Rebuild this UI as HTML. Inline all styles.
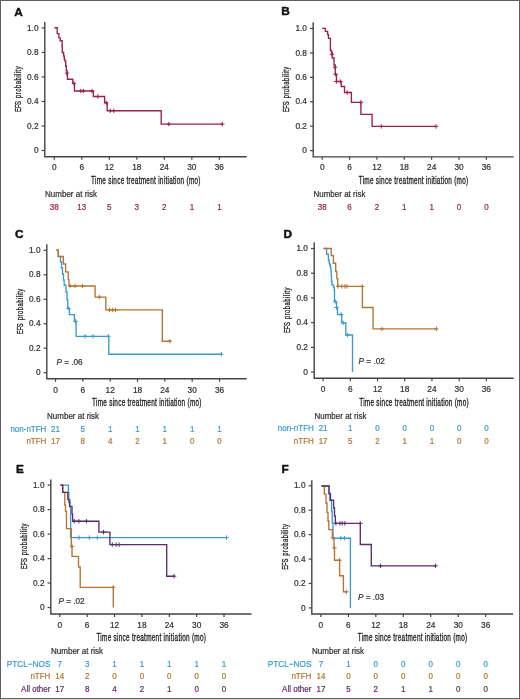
<!DOCTYPE html><html><head><meta charset="utf-8"><style>html,body{margin:0;padding:0;background:#fff;}svg{display:block;will-change:transform;}text{font-family:"Liberation Sans", sans-serif;stroke-linejoin:round;}</style></head><body>
<svg width="520" height="699" viewBox="0 0 520 699">
<rect x="0" y="0" width="520" height="699" fill="#fff"/>
<rect x="0.5" y="0.5" width="519" height="698" fill="none" stroke="#606060" stroke-width="1"/>
<text x="14.3" y="15.6" font-size="11.8" fill="#111" stroke="#111" stroke-width="0.45" font-weight="bold">A</text>
<path d="M44.8,22 V156.7 H246.7" fill="none" stroke="#444444" stroke-width="1.4"/>
<path d="M41.6,150.5 H44.8" stroke="#444444" stroke-width="1.2"/>
<text transform="translate(38.5,153.1) scale(1,1.12)" font-size="8.3" text-anchor="end" fill="#303030" stroke="#303030" stroke-width="0.2">0</text>
<path d="M41.6,125.98 H44.8" stroke="#444444" stroke-width="1.2"/>
<text transform="translate(38.5,128.58) scale(1,1.12)" font-size="8.3" text-anchor="end" fill="#303030" stroke="#303030" stroke-width="0.2">0.2</text>
<path d="M41.6,101.46 H44.8" stroke="#444444" stroke-width="1.2"/>
<text transform="translate(38.5,104.06) scale(1,1.12)" font-size="8.3" text-anchor="end" fill="#303030" stroke="#303030" stroke-width="0.2">0.4</text>
<path d="M41.6,76.94 H44.8" stroke="#444444" stroke-width="1.2"/>
<text transform="translate(38.5,79.54) scale(1,1.12)" font-size="8.3" text-anchor="end" fill="#303030" stroke="#303030" stroke-width="0.2">0.6</text>
<path d="M41.6,52.42 H44.8" stroke="#444444" stroke-width="1.2"/>
<text transform="translate(38.5,55.02) scale(1,1.12)" font-size="8.3" text-anchor="end" fill="#303030" stroke="#303030" stroke-width="0.2">0.8</text>
<path d="M41.6,27.9 H44.8" stroke="#444444" stroke-width="1.2"/>
<text transform="translate(38.5,30.5) scale(1,1.12)" font-size="8.3" text-anchor="end" fill="#303030" stroke="#303030" stroke-width="0.2">1.0</text>
<path d="M54.3,156.7 V159.7" stroke="#444444" stroke-width="1.2"/>
<text transform="translate(54.3,170.3) scale(1,1.12)" font-size="8.3" text-anchor="middle" fill="#303030" stroke="#303030" stroke-width="0.2">0</text>
<path d="M81.81,156.7 V159.7" stroke="#444444" stroke-width="1.2"/>
<text transform="translate(81.81,170.3) scale(1,1.12)" font-size="8.3" text-anchor="middle" fill="#303030" stroke="#303030" stroke-width="0.2">6</text>
<path d="M109.32,156.7 V159.7" stroke="#444444" stroke-width="1.2"/>
<text transform="translate(109.32,170.3) scale(1,1.12)" font-size="8.3" text-anchor="middle" fill="#303030" stroke="#303030" stroke-width="0.2">12</text>
<path d="M136.83,156.7 V159.7" stroke="#444444" stroke-width="1.2"/>
<text transform="translate(136.83,170.3) scale(1,1.12)" font-size="8.3" text-anchor="middle" fill="#303030" stroke="#303030" stroke-width="0.2">18</text>
<path d="M164.34,156.7 V159.7" stroke="#444444" stroke-width="1.2"/>
<text transform="translate(164.34,170.3) scale(1,1.12)" font-size="8.3" text-anchor="middle" fill="#303030" stroke="#303030" stroke-width="0.2">24</text>
<path d="M191.85,156.7 V159.7" stroke="#444444" stroke-width="1.2"/>
<text transform="translate(191.85,170.3) scale(1,1.12)" font-size="8.3" text-anchor="middle" fill="#303030" stroke="#303030" stroke-width="0.2">30</text>
<path d="M219.36,156.7 V159.7" stroke="#444444" stroke-width="1.2"/>
<text transform="translate(219.36,170.3) scale(1,1.12)" font-size="8.3" text-anchor="middle" fill="#303030" stroke="#303030" stroke-width="0.2">36</text>
<text transform="translate(145.75,184) scale(0.63,1)" x="0" y="0" font-size="10.2" text-anchor="middle" textLength="173.81" lengthAdjust="spacing" fill="#1a1a1a" stroke="#1a1a1a" stroke-width="0.32">Time since treatment initiation (mo)</text>
<text transform="translate(20.8,89.2) rotate(-90) scale(0.6,1)" x="-38" y="0" font-size="9.8" textLength="18.33" lengthAdjust="spacing" fill="#1a1a1a" stroke="#1a1a1a" stroke-width="0.3">EFS</text>
<text transform="translate(20.8,89.2) rotate(-90) scale(0.6,1)" x="-14.67" y="0" font-size="9.8" textLength="52.67" lengthAdjust="spacing" fill="#1a1a1a" stroke="#1a1a1a" stroke-width="0.3">probability</text>
<text transform="translate(45.1,197.1) scale(1,1.12)" font-size="8" fill="#303030" stroke="#303030" stroke-width="0.2">Number at risk</text>
<text transform="translate(54.3,209.6) scale(1,1.12)" font-size="8" text-anchor="middle" fill="#9a2145" stroke="#9a2145" stroke-width="0.2">38</text>
<text transform="translate(81.81,209.6) scale(1,1.12)" font-size="8" text-anchor="middle" fill="#9a2145" stroke="#9a2145" stroke-width="0.2">13</text>
<text transform="translate(109.32,209.6) scale(1,1.12)" font-size="8" text-anchor="middle" fill="#9a2145" stroke="#9a2145" stroke-width="0.2">5</text>
<text transform="translate(136.83,209.6) scale(1,1.12)" font-size="8" text-anchor="middle" fill="#9a2145" stroke="#9a2145" stroke-width="0.2">3</text>
<text transform="translate(164.34,209.6) scale(1,1.12)" font-size="8" text-anchor="middle" fill="#9a2145" stroke="#9a2145" stroke-width="0.2">2</text>
<text transform="translate(191.85,209.6) scale(1,1.12)" font-size="8" text-anchor="middle" fill="#9a2145" stroke="#9a2145" stroke-width="0.2">1</text>
<text transform="translate(219.36,209.6) scale(1,1.12)" font-size="8" text-anchor="middle" fill="#9a2145" stroke="#9a2145" stroke-width="0.2">1</text>
<path d="M54.4,27.7 H57.2 V33.6 H58.9 V37.9 H60.2 V40.7 H62.1 V46 H62.3 V52.5 H63.6 V56 H64.3 V59.3 H64.9 V61 H65.7 V66 H66.3 V70.5 H67 V75 H67.5 V79.2 H72.8 V83.3 H74.5 V91 H93.4 V96.5 H104.6 V102.7 H107.2 V110.7 H161.2 V124.1 H222.3" fill="none" stroke="#9a2145" stroke-width="1.35" stroke-linejoin="miter"/>
<path d="M67,70.9 V75.3 M64.8,73.1 H69.2 M73.9,81.2 V85.6 M71.7,83.4 H76.1 M80.8,88.8 V93.2 M78.6,91 H83 M83.3,88.8 V93.2 M81.1,91 H85.5 M92,88.8 V93.2 M89.8,91 H94.2 M97.8,94.3 V98.7 M95.6,96.5 H100 M106.2,100.5 V104.9 M104,102.7 H108.4 M110.3,108.5 V112.9 M108.1,110.7 H112.5 M113.8,108.5 V112.9 M111.6,110.7 H116 M168.8,121.9 V126.3 M166.6,124.1 H171 M222.3,121.9 V126.3 M220.1,124.1 H224.5" fill="none" stroke="#9a2145" stroke-width="1"/>
<text x="281.3" y="15.2" font-size="11.8" fill="#111" stroke="#111" stroke-width="0.45" font-weight="bold">B</text>
<path d="M313.2,22.2 V156.85 H513.7" fill="none" stroke="#444444" stroke-width="1.4"/>
<path d="M310,150.6 H313.2" stroke="#444444" stroke-width="1.2"/>
<text transform="translate(306.9,153.2) scale(1,1.12)" font-size="8.3" text-anchor="end" fill="#303030" stroke="#303030" stroke-width="0.2">0</text>
<path d="M310,126.18 H313.2" stroke="#444444" stroke-width="1.2"/>
<text transform="translate(306.9,128.78) scale(1,1.12)" font-size="8.3" text-anchor="end" fill="#303030" stroke="#303030" stroke-width="0.2">0.2</text>
<path d="M310,101.76 H313.2" stroke="#444444" stroke-width="1.2"/>
<text transform="translate(306.9,104.36) scale(1,1.12)" font-size="8.3" text-anchor="end" fill="#303030" stroke="#303030" stroke-width="0.2">0.4</text>
<path d="M310,77.34 H313.2" stroke="#444444" stroke-width="1.2"/>
<text transform="translate(306.9,79.94) scale(1,1.12)" font-size="8.3" text-anchor="end" fill="#303030" stroke="#303030" stroke-width="0.2">0.6</text>
<path d="M310,52.92 H313.2" stroke="#444444" stroke-width="1.2"/>
<text transform="translate(306.9,55.52) scale(1,1.12)" font-size="8.3" text-anchor="end" fill="#303030" stroke="#303030" stroke-width="0.2">0.8</text>
<path d="M310,28.5 H313.2" stroke="#444444" stroke-width="1.2"/>
<text transform="translate(306.9,31.1) scale(1,1.12)" font-size="8.3" text-anchor="end" fill="#303030" stroke="#303030" stroke-width="0.2">1.0</text>
<path d="M322.2,156.85 V159.85" stroke="#444444" stroke-width="1.2"/>
<text transform="translate(322.2,170.45) scale(1,1.12)" font-size="8.3" text-anchor="middle" fill="#303030" stroke="#303030" stroke-width="0.2">0</text>
<path d="M349.56,156.85 V159.85" stroke="#444444" stroke-width="1.2"/>
<text transform="translate(349.56,170.45) scale(1,1.12)" font-size="8.3" text-anchor="middle" fill="#303030" stroke="#303030" stroke-width="0.2">6</text>
<path d="M376.92,156.85 V159.85" stroke="#444444" stroke-width="1.2"/>
<text transform="translate(376.92,170.45) scale(1,1.12)" font-size="8.3" text-anchor="middle" fill="#303030" stroke="#303030" stroke-width="0.2">12</text>
<path d="M404.28,156.85 V159.85" stroke="#444444" stroke-width="1.2"/>
<text transform="translate(404.28,170.45) scale(1,1.12)" font-size="8.3" text-anchor="middle" fill="#303030" stroke="#303030" stroke-width="0.2">18</text>
<path d="M431.64,156.85 V159.85" stroke="#444444" stroke-width="1.2"/>
<text transform="translate(431.64,170.45) scale(1,1.12)" font-size="8.3" text-anchor="middle" fill="#303030" stroke="#303030" stroke-width="0.2">24</text>
<path d="M459,156.85 V159.85" stroke="#444444" stroke-width="1.2"/>
<text transform="translate(459,170.45) scale(1,1.12)" font-size="8.3" text-anchor="middle" fill="#303030" stroke="#303030" stroke-width="0.2">30</text>
<path d="M486.36,156.85 V159.85" stroke="#444444" stroke-width="1.2"/>
<text transform="translate(486.36,170.45) scale(1,1.12)" font-size="8.3" text-anchor="middle" fill="#303030" stroke="#303030" stroke-width="0.2">36</text>
<text transform="translate(413.45,184.15) scale(0.63,1)" x="0" y="0" font-size="10.2" text-anchor="middle" textLength="173.81" lengthAdjust="spacing" fill="#1a1a1a" stroke="#1a1a1a" stroke-width="0.32">Time since treatment initiation (mo)</text>
<text transform="translate(289.2,89.55) rotate(-90) scale(0.6,1)" x="-38" y="0" font-size="9.8" textLength="18.33" lengthAdjust="spacing" fill="#1a1a1a" stroke="#1a1a1a" stroke-width="0.3">EFS</text>
<text transform="translate(289.2,89.55) rotate(-90) scale(0.6,1)" x="-14.67" y="0" font-size="9.8" textLength="52.67" lengthAdjust="spacing" fill="#1a1a1a" stroke="#1a1a1a" stroke-width="0.3">probability</text>
<text transform="translate(313.5,197.25) scale(1,1.12)" font-size="8" fill="#303030" stroke="#303030" stroke-width="0.2">Number at risk</text>
<text transform="translate(322.2,209.75) scale(1,1.12)" font-size="8" text-anchor="middle" fill="#9a2145" stroke="#9a2145" stroke-width="0.2">38</text>
<text transform="translate(349.56,209.75) scale(1,1.12)" font-size="8" text-anchor="middle" fill="#9a2145" stroke="#9a2145" stroke-width="0.2">6</text>
<text transform="translate(376.92,209.75) scale(1,1.12)" font-size="8" text-anchor="middle" fill="#9a2145" stroke="#9a2145" stroke-width="0.2">2</text>
<text transform="translate(404.28,209.75) scale(1,1.12)" font-size="8" text-anchor="middle" fill="#9a2145" stroke="#9a2145" stroke-width="0.2">1</text>
<text transform="translate(431.64,209.75) scale(1,1.12)" font-size="8" text-anchor="middle" fill="#9a2145" stroke="#9a2145" stroke-width="0.2">1</text>
<text transform="translate(459,209.75) scale(1,1.12)" font-size="8" text-anchor="middle" fill="#9a2145" stroke="#9a2145" stroke-width="0.2">0</text>
<text transform="translate(486.36,209.75) scale(1,1.12)" font-size="8" text-anchor="middle" fill="#9a2145" stroke="#9a2145" stroke-width="0.2">0</text>
<path d="M322,28.4 H325.3 V31.3 H327.6 V34.5 H328.5 V38.3 H330.4 V50.5 H331.5 V52.5 H332.2 V58 H334 V65 H335.2 V74.3 H336.5 V81.5 H341.2 V86.5 H344.5 V92.5 H351.4 V102.3 H360.9 V114.4 H372.1 V126.4 H436" fill="none" stroke="#9a2145" stroke-width="1.35" stroke-linejoin="miter"/>
<path d="M332,52.1 V56.5 M329.8,54.3 H334.2 M335.1,65.1 V69.5 M332.9,67.3 H337.3 M335.6,72.1 V76.5 M333.4,74.3 H337.8 M336.4,79.3 V83.7 M334.2,81.5 H338.6 M340.3,79.3 V83.7 M338.1,81.5 H342.5 M347.2,90.3 V94.7 M345,92.5 H349.4 M360.9,100.1 V104.5 M358.7,102.3 H363.1 M381.3,124.2 V128.6 M379.1,126.4 H383.5 M436,124.2 V128.6 M433.8,126.4 H438.2" fill="none" stroke="#9a2145" stroke-width="1"/>
<text x="15" y="237.8" font-size="11.8" fill="#111" stroke="#111" stroke-width="0.45" font-weight="bold">C</text>
<path d="M46.8,244.2 V378.8 H246.7" fill="none" stroke="#444444" stroke-width="1.4"/>
<path d="M43.6,372.7 H46.8" stroke="#444444" stroke-width="1.2"/>
<text transform="translate(40.5,375.3) scale(1,1.12)" font-size="8.3" text-anchor="end" fill="#303030" stroke="#303030" stroke-width="0.2">0</text>
<path d="M43.6,348.22 H46.8" stroke="#444444" stroke-width="1.2"/>
<text transform="translate(40.5,350.82) scale(1,1.12)" font-size="8.3" text-anchor="end" fill="#303030" stroke="#303030" stroke-width="0.2">0.2</text>
<path d="M43.6,323.74 H46.8" stroke="#444444" stroke-width="1.2"/>
<text transform="translate(40.5,326.34) scale(1,1.12)" font-size="8.3" text-anchor="end" fill="#303030" stroke="#303030" stroke-width="0.2">0.4</text>
<path d="M43.6,299.26 H46.8" stroke="#444444" stroke-width="1.2"/>
<text transform="translate(40.5,301.86) scale(1,1.12)" font-size="8.3" text-anchor="end" fill="#303030" stroke="#303030" stroke-width="0.2">0.6</text>
<path d="M43.6,274.78 H46.8" stroke="#444444" stroke-width="1.2"/>
<text transform="translate(40.5,277.38) scale(1,1.12)" font-size="8.3" text-anchor="end" fill="#303030" stroke="#303030" stroke-width="0.2">0.8</text>
<path d="M43.6,250.3 H46.8" stroke="#444444" stroke-width="1.2"/>
<text transform="translate(40.5,252.9) scale(1,1.12)" font-size="8.3" text-anchor="end" fill="#303030" stroke="#303030" stroke-width="0.2">1.0</text>
<path d="M55.5,378.8 V381.8" stroke="#444444" stroke-width="1.2"/>
<text transform="translate(55.5,393) scale(1,1.12)" font-size="8.3" text-anchor="middle" fill="#303030" stroke="#303030" stroke-width="0.2">0</text>
<path d="M82.84,378.8 V381.8" stroke="#444444" stroke-width="1.2"/>
<text transform="translate(82.84,393) scale(1,1.12)" font-size="8.3" text-anchor="middle" fill="#303030" stroke="#303030" stroke-width="0.2">6</text>
<path d="M110.17,378.8 V381.8" stroke="#444444" stroke-width="1.2"/>
<text transform="translate(110.17,393) scale(1,1.12)" font-size="8.3" text-anchor="middle" fill="#303030" stroke="#303030" stroke-width="0.2">12</text>
<path d="M137.51,378.8 V381.8" stroke="#444444" stroke-width="1.2"/>
<text transform="translate(137.51,393) scale(1,1.12)" font-size="8.3" text-anchor="middle" fill="#303030" stroke="#303030" stroke-width="0.2">18</text>
<path d="M164.84,378.8 V381.8" stroke="#444444" stroke-width="1.2"/>
<text transform="translate(164.84,393) scale(1,1.12)" font-size="8.3" text-anchor="middle" fill="#303030" stroke="#303030" stroke-width="0.2">24</text>
<path d="M192.18,378.8 V381.8" stroke="#444444" stroke-width="1.2"/>
<text transform="translate(192.18,393) scale(1,1.12)" font-size="8.3" text-anchor="middle" fill="#303030" stroke="#303030" stroke-width="0.2">30</text>
<path d="M219.52,378.8 V381.8" stroke="#444444" stroke-width="1.2"/>
<text transform="translate(219.52,393) scale(1,1.12)" font-size="8.3" text-anchor="middle" fill="#303030" stroke="#303030" stroke-width="0.2">36</text>
<text transform="translate(146.75,406.1) scale(0.63,1)" x="0" y="0" font-size="10.2" text-anchor="middle" textLength="173.81" lengthAdjust="spacing" fill="#1a1a1a" stroke="#1a1a1a" stroke-width="0.32">Time since treatment initiation (mo)</text>
<text transform="translate(22.8,311.5) rotate(-90) scale(0.6,1)" x="-38" y="0" font-size="9.8" textLength="18.33" lengthAdjust="spacing" fill="#1a1a1a" stroke="#1a1a1a" stroke-width="0.3">EFS</text>
<text transform="translate(22.8,311.5) rotate(-90) scale(0.6,1)" x="-14.67" y="0" font-size="9.8" textLength="52.67" lengthAdjust="spacing" fill="#1a1a1a" stroke="#1a1a1a" stroke-width="0.3">probability</text>
<text transform="translate(47.1,419.2) scale(1,1.12)" font-size="8" fill="#303030" stroke="#303030" stroke-width="0.2">Number at risk</text>
<text transform="translate(46.4,431.7) scale(1,1.12)" font-size="8" text-anchor="end" fill="#3b9bd0" stroke="#3b9bd0" stroke-width="0.2">non-nTFH</text>
<text transform="translate(55.5,431.7) scale(1,1.12)" font-size="8" text-anchor="middle" fill="#3b9bd0" stroke="#3b9bd0" stroke-width="0.2">21</text>
<text transform="translate(82.84,431.7) scale(1,1.12)" font-size="8" text-anchor="middle" fill="#3b9bd0" stroke="#3b9bd0" stroke-width="0.2">5</text>
<text transform="translate(110.17,431.7) scale(1,1.12)" font-size="8" text-anchor="middle" fill="#3b9bd0" stroke="#3b9bd0" stroke-width="0.2">1</text>
<text transform="translate(137.51,431.7) scale(1,1.12)" font-size="8" text-anchor="middle" fill="#3b9bd0" stroke="#3b9bd0" stroke-width="0.2">1</text>
<text transform="translate(164.84,431.7) scale(1,1.12)" font-size="8" text-anchor="middle" fill="#3b9bd0" stroke="#3b9bd0" stroke-width="0.2">1</text>
<text transform="translate(192.18,431.7) scale(1,1.12)" font-size="8" text-anchor="middle" fill="#3b9bd0" stroke="#3b9bd0" stroke-width="0.2">1</text>
<text transform="translate(219.52,431.7) scale(1,1.12)" font-size="8" text-anchor="middle" fill="#3b9bd0" stroke="#3b9bd0" stroke-width="0.2">1</text>
<text transform="translate(46.4,444.1) scale(1,1.12)" font-size="8" text-anchor="end" fill="#b5742f" stroke="#b5742f" stroke-width="0.2">nTFH</text>
<text transform="translate(55.5,444.1) scale(1,1.12)" font-size="8" text-anchor="middle" fill="#b5742f" stroke="#b5742f" stroke-width="0.2">17</text>
<text transform="translate(82.84,444.1) scale(1,1.12)" font-size="8" text-anchor="middle" fill="#b5742f" stroke="#b5742f" stroke-width="0.2">8</text>
<text transform="translate(110.17,444.1) scale(1,1.12)" font-size="8" text-anchor="middle" fill="#b5742f" stroke="#b5742f" stroke-width="0.2">4</text>
<text transform="translate(137.51,444.1) scale(1,1.12)" font-size="8" text-anchor="middle" fill="#b5742f" stroke="#b5742f" stroke-width="0.2">2</text>
<text transform="translate(164.84,444.1) scale(1,1.12)" font-size="8" text-anchor="middle" fill="#b5742f" stroke="#b5742f" stroke-width="0.2">1</text>
<text transform="translate(192.18,444.1) scale(1,1.12)" font-size="8" text-anchor="middle" fill="#b5742f" stroke="#b5742f" stroke-width="0.2">0</text>
<text transform="translate(219.52,444.1) scale(1,1.12)" font-size="8" text-anchor="middle" fill="#b5742f" stroke="#b5742f" stroke-width="0.2">0</text>
<path d="M56.3,250.2 H58.3 V256.5 H60.5 V262 H61.5 V268 H62.5 V274 H63.5 V280 H64.2 V285.2 H66 V292 H67 V300 H67.8 V308.3 H69.4 V314.6 H74.4 V321.3 H76.1 V336.3 H108.8 V354.2 H221.5" fill="none" stroke="#3b9bd0" stroke-width="1.35" stroke-linejoin="miter"/>
<path d="M68.3,306.1 V310.5 M66.1,308.3 H70.5 M75.5,319.1 V323.5 M73.3,321.3 H77.7 M85.2,334.1 V338.5 M83,336.3 H87.4 M93.1,334.1 V338.5 M90.9,336.3 H95.3 M108.3,334.1 V338.5 M106.1,336.3 H110.5 M221.3,352 V356.4 M219.1,354.2 H223.5" fill="none" stroke="#3b9bd0" stroke-width="1"/>
<path d="M56.3,250.2 H58.3 V256.5 H63.3 V264 H65.6 V271.8 H68.2 V279.6 H69 V286 H95.1 V297.1 H105.8 V309.9 H162.3 V341.2 H171" fill="none" stroke="#b5742f" stroke-width="1.35" stroke-linejoin="miter"/>
<path d="M70.2,283.8 V288.2 M68,286 H72.4 M75,283.8 V288.2 M72.8,286 H77.2 M82.4,283.8 V288.2 M80.2,286 H84.6 M99.3,294.9 V299.3 M97.1,297.1 H101.5 M109.5,307.7 V312.1 M107.3,309.9 H111.7 M112.6,307.7 V312.1 M110.4,309.9 H114.8 M115.4,307.7 V312.1 M113.2,309.9 H117.6 M169.8,339 V343.4 M167.6,341.2 H172" fill="none" stroke="#b5742f" stroke-width="1"/>
<text transform="translate(56.5,364.7) scale(1,1.12)" font-size="8.2" fill="#303030" stroke="#303030" stroke-width="0.2"><tspan font-style="italic">P</tspan> = .06</text>
<text x="283.6" y="237.8" font-size="11.8" fill="#111" stroke="#111" stroke-width="0.45" font-weight="bold">D</text>
<path d="M314.2,242.2 V378.3 H513.7" fill="none" stroke="#444444" stroke-width="1.4"/>
<path d="M311,372.1 H314.2" stroke="#444444" stroke-width="1.2"/>
<text transform="translate(307.9,374.7) scale(1,1.12)" font-size="8.3" text-anchor="end" fill="#303030" stroke="#303030" stroke-width="0.2">0</text>
<path d="M311,347.38 H314.2" stroke="#444444" stroke-width="1.2"/>
<text transform="translate(307.9,349.98) scale(1,1.12)" font-size="8.3" text-anchor="end" fill="#303030" stroke="#303030" stroke-width="0.2">0.2</text>
<path d="M311,322.66 H314.2" stroke="#444444" stroke-width="1.2"/>
<text transform="translate(307.9,325.26) scale(1,1.12)" font-size="8.3" text-anchor="end" fill="#303030" stroke="#303030" stroke-width="0.2">0.4</text>
<path d="M311,297.94 H314.2" stroke="#444444" stroke-width="1.2"/>
<text transform="translate(307.9,300.54) scale(1,1.12)" font-size="8.3" text-anchor="end" fill="#303030" stroke="#303030" stroke-width="0.2">0.6</text>
<path d="M311,273.22 H314.2" stroke="#444444" stroke-width="1.2"/>
<text transform="translate(307.9,275.82) scale(1,1.12)" font-size="8.3" text-anchor="end" fill="#303030" stroke="#303030" stroke-width="0.2">0.8</text>
<path d="M311,248.5 H314.2" stroke="#444444" stroke-width="1.2"/>
<text transform="translate(307.9,251.1) scale(1,1.12)" font-size="8.3" text-anchor="end" fill="#303030" stroke="#303030" stroke-width="0.2">1.0</text>
<path d="M323.1,378.3 V381.3" stroke="#444444" stroke-width="1.2"/>
<text transform="translate(323.1,391.9) scale(1,1.12)" font-size="8.3" text-anchor="middle" fill="#303030" stroke="#303030" stroke-width="0.2">0</text>
<path d="M350.31,378.3 V381.3" stroke="#444444" stroke-width="1.2"/>
<text transform="translate(350.31,391.9) scale(1,1.12)" font-size="8.3" text-anchor="middle" fill="#303030" stroke="#303030" stroke-width="0.2">6</text>
<path d="M377.52,378.3 V381.3" stroke="#444444" stroke-width="1.2"/>
<text transform="translate(377.52,391.9) scale(1,1.12)" font-size="8.3" text-anchor="middle" fill="#303030" stroke="#303030" stroke-width="0.2">12</text>
<path d="M404.73,378.3 V381.3" stroke="#444444" stroke-width="1.2"/>
<text transform="translate(404.73,391.9) scale(1,1.12)" font-size="8.3" text-anchor="middle" fill="#303030" stroke="#303030" stroke-width="0.2">18</text>
<path d="M431.94,378.3 V381.3" stroke="#444444" stroke-width="1.2"/>
<text transform="translate(431.94,391.9) scale(1,1.12)" font-size="8.3" text-anchor="middle" fill="#303030" stroke="#303030" stroke-width="0.2">24</text>
<path d="M459.15,378.3 V381.3" stroke="#444444" stroke-width="1.2"/>
<text transform="translate(459.15,391.9) scale(1,1.12)" font-size="8.3" text-anchor="middle" fill="#303030" stroke="#303030" stroke-width="0.2">30</text>
<path d="M486.36,378.3 V381.3" stroke="#444444" stroke-width="1.2"/>
<text transform="translate(486.36,391.9) scale(1,1.12)" font-size="8.3" text-anchor="middle" fill="#303030" stroke="#303030" stroke-width="0.2">36</text>
<text transform="translate(413.95,405.6) scale(0.63,1)" x="0" y="0" font-size="10.2" text-anchor="middle" textLength="173.81" lengthAdjust="spacing" fill="#1a1a1a" stroke="#1a1a1a" stroke-width="0.32">Time since treatment initiation (mo)</text>
<text transform="translate(290.2,310.3) rotate(-90) scale(0.6,1)" x="-38" y="0" font-size="9.8" textLength="18.33" lengthAdjust="spacing" fill="#1a1a1a" stroke="#1a1a1a" stroke-width="0.3">EFS</text>
<text transform="translate(290.2,310.3) rotate(-90) scale(0.6,1)" x="-14.67" y="0" font-size="9.8" textLength="52.67" lengthAdjust="spacing" fill="#1a1a1a" stroke="#1a1a1a" stroke-width="0.3">probability</text>
<text transform="translate(314.5,418.7) scale(1,1.12)" font-size="8" fill="#303030" stroke="#303030" stroke-width="0.2">Number at risk</text>
<text transform="translate(313.8,431.2) scale(1,1.12)" font-size="8" text-anchor="end" fill="#3b9bd0" stroke="#3b9bd0" stroke-width="0.2">non-nTFH</text>
<text transform="translate(323.1,431.2) scale(1,1.12)" font-size="8" text-anchor="middle" fill="#3b9bd0" stroke="#3b9bd0" stroke-width="0.2">21</text>
<text transform="translate(350.31,431.2) scale(1,1.12)" font-size="8" text-anchor="middle" fill="#3b9bd0" stroke="#3b9bd0" stroke-width="0.2">1</text>
<text transform="translate(377.52,431.2) scale(1,1.12)" font-size="8" text-anchor="middle" fill="#3b9bd0" stroke="#3b9bd0" stroke-width="0.2">0</text>
<text transform="translate(404.73,431.2) scale(1,1.12)" font-size="8" text-anchor="middle" fill="#3b9bd0" stroke="#3b9bd0" stroke-width="0.2">0</text>
<text transform="translate(431.94,431.2) scale(1,1.12)" font-size="8" text-anchor="middle" fill="#3b9bd0" stroke="#3b9bd0" stroke-width="0.2">0</text>
<text transform="translate(459.15,431.2) scale(1,1.12)" font-size="8" text-anchor="middle" fill="#3b9bd0" stroke="#3b9bd0" stroke-width="0.2">0</text>
<text transform="translate(486.36,431.2) scale(1,1.12)" font-size="8" text-anchor="middle" fill="#3b9bd0" stroke="#3b9bd0" stroke-width="0.2">0</text>
<text transform="translate(313.8,443.6) scale(1,1.12)" font-size="8" text-anchor="end" fill="#b5742f" stroke="#b5742f" stroke-width="0.2">nTFH</text>
<text transform="translate(323.1,443.6) scale(1,1.12)" font-size="8" text-anchor="middle" fill="#b5742f" stroke="#b5742f" stroke-width="0.2">17</text>
<text transform="translate(350.31,443.6) scale(1,1.12)" font-size="8" text-anchor="middle" fill="#b5742f" stroke="#b5742f" stroke-width="0.2">5</text>
<text transform="translate(377.52,443.6) scale(1,1.12)" font-size="8" text-anchor="middle" fill="#b5742f" stroke="#b5742f" stroke-width="0.2">2</text>
<text transform="translate(404.73,443.6) scale(1,1.12)" font-size="8" text-anchor="middle" fill="#b5742f" stroke="#b5742f" stroke-width="0.2">1</text>
<text transform="translate(431.94,443.6) scale(1,1.12)" font-size="8" text-anchor="middle" fill="#b5742f" stroke="#b5742f" stroke-width="0.2">1</text>
<text transform="translate(459.15,443.6) scale(1,1.12)" font-size="8" text-anchor="middle" fill="#b5742f" stroke="#b5742f" stroke-width="0.2">0</text>
<text transform="translate(486.36,443.6) scale(1,1.12)" font-size="8" text-anchor="middle" fill="#b5742f" stroke="#b5742f" stroke-width="0.2">0</text>
<path d="M323.6,248.5 H326.6 V254.2 H328.4 V260 H329.2 V263 H329.7 V265 H330.4 V267.5 H330.9 V271 H331.2 V276 H331.5 V281 H331.9 V284.8 H333.4 V287 H334.2 V290 H334.5 V301.6 H336.5 V307.5 H337.5 V314.5 H341.7 V322.8 H345.8 V335 H352.5 V372" fill="none" stroke="#3b9bd0" stroke-width="1.35" stroke-linejoin="miter"/>
<path d="M335.2,299.4 V303.8 M333,301.6 H337.4 M336.5,305.3 V309.7 M334.3,307.5 H338.7 M341.2,312.3 V316.7 M339,314.5 H343.4 M343.2,320.6 V325 M341,322.8 H345.4 M347.5,332.8 V337.2 M345.3,335 H349.7" fill="none" stroke="#3b9bd0" stroke-width="1"/>
<path d="M323.6,248.5 H331.2 V255.5 H333.4 V263.2 H335.7 V271.5 H336.8 V278.6 H337.7 V286.4 H362.4 V307.5 H373.1 V328.9 H436.5" fill="none" stroke="#b5742f" stroke-width="1.35" stroke-linejoin="miter"/>
<path d="M338,284.2 V288.6 M335.8,286.4 H340.2 M341.7,284.2 V288.6 M339.5,286.4 H343.9 M344.9,284.2 V288.6 M342.7,286.4 H347.1 M346.9,284.2 V288.6 M344.7,286.4 H349.1 M362.3,284.2 V288.6 M360.1,286.4 H364.5 M382.1,326.7 V331.1 M379.9,328.9 H384.3 M436.5,326.7 V331.1 M434.3,328.9 H438.7" fill="none" stroke="#b5742f" stroke-width="1"/>
<text transform="translate(358.6,364.4) scale(1,1.12)" font-size="8.2" fill="#303030" stroke="#303030" stroke-width="0.2"><tspan font-style="italic">P</tspan> = .02</text>
<text x="16" y="472.8" font-size="11.8" fill="#111" stroke="#111" stroke-width="0.45" font-weight="bold">E</text>
<path d="M50.8,479.5 V614 H251.5" fill="none" stroke="#444444" stroke-width="1.4"/>
<path d="M47.6,607.5 H50.8" stroke="#444444" stroke-width="1.2"/>
<text transform="translate(44.5,610.1) scale(1,1.12)" font-size="8.3" text-anchor="end" fill="#303030" stroke="#303030" stroke-width="0.2">0</text>
<path d="M47.6,583.04 H50.8" stroke="#444444" stroke-width="1.2"/>
<text transform="translate(44.5,585.64) scale(1,1.12)" font-size="8.3" text-anchor="end" fill="#303030" stroke="#303030" stroke-width="0.2">0.2</text>
<path d="M47.6,558.58 H50.8" stroke="#444444" stroke-width="1.2"/>
<text transform="translate(44.5,561.18) scale(1,1.12)" font-size="8.3" text-anchor="end" fill="#303030" stroke="#303030" stroke-width="0.2">0.4</text>
<path d="M47.6,534.12 H50.8" stroke="#444444" stroke-width="1.2"/>
<text transform="translate(44.5,536.72) scale(1,1.12)" font-size="8.3" text-anchor="end" fill="#303030" stroke="#303030" stroke-width="0.2">0.6</text>
<path d="M47.6,509.66 H50.8" stroke="#444444" stroke-width="1.2"/>
<text transform="translate(44.5,512.26) scale(1,1.12)" font-size="8.3" text-anchor="end" fill="#303030" stroke="#303030" stroke-width="0.2">0.8</text>
<path d="M47.6,485.2 H50.8" stroke="#444444" stroke-width="1.2"/>
<text transform="translate(44.5,487.8) scale(1,1.12)" font-size="8.3" text-anchor="end" fill="#303030" stroke="#303030" stroke-width="0.2">1.0</text>
<path d="M59.8,614 V617" stroke="#444444" stroke-width="1.2"/>
<text transform="translate(59.8,627.6) scale(1,1.12)" font-size="8.3" text-anchor="middle" fill="#303030" stroke="#303030" stroke-width="0.2">0</text>
<path d="M87.17,614 V617" stroke="#444444" stroke-width="1.2"/>
<text transform="translate(87.17,627.6) scale(1,1.12)" font-size="8.3" text-anchor="middle" fill="#303030" stroke="#303030" stroke-width="0.2">6</text>
<path d="M114.53,614 V617" stroke="#444444" stroke-width="1.2"/>
<text transform="translate(114.53,627.6) scale(1,1.12)" font-size="8.3" text-anchor="middle" fill="#303030" stroke="#303030" stroke-width="0.2">12</text>
<path d="M141.9,614 V617" stroke="#444444" stroke-width="1.2"/>
<text transform="translate(141.9,627.6) scale(1,1.12)" font-size="8.3" text-anchor="middle" fill="#303030" stroke="#303030" stroke-width="0.2">18</text>
<path d="M169.26,614 V617" stroke="#444444" stroke-width="1.2"/>
<text transform="translate(169.26,627.6) scale(1,1.12)" font-size="8.3" text-anchor="middle" fill="#303030" stroke="#303030" stroke-width="0.2">24</text>
<path d="M196.63,614 V617" stroke="#444444" stroke-width="1.2"/>
<text transform="translate(196.63,627.6) scale(1,1.12)" font-size="8.3" text-anchor="middle" fill="#303030" stroke="#303030" stroke-width="0.2">30</text>
<path d="M224,614 V617" stroke="#444444" stroke-width="1.2"/>
<text transform="translate(224,627.6) scale(1,1.12)" font-size="8.3" text-anchor="middle" fill="#303030" stroke="#303030" stroke-width="0.2">36</text>
<text transform="translate(151.15,641.3) scale(0.63,1)" x="0" y="0" font-size="10.2" text-anchor="middle" textLength="173.81" lengthAdjust="spacing" fill="#1a1a1a" stroke="#1a1a1a" stroke-width="0.32">Time since treatment initiation (mo)</text>
<text transform="translate(26.8,546.35) rotate(-90) scale(0.6,1)" x="-38" y="0" font-size="9.8" textLength="18.33" lengthAdjust="spacing" fill="#1a1a1a" stroke="#1a1a1a" stroke-width="0.3">EFS</text>
<text transform="translate(26.8,546.35) rotate(-90) scale(0.6,1)" x="-14.67" y="0" font-size="9.8" textLength="52.67" lengthAdjust="spacing" fill="#1a1a1a" stroke="#1a1a1a" stroke-width="0.3">probability</text>
<text transform="translate(51.1,654.4) scale(1,1.12)" font-size="8" fill="#303030" stroke="#303030" stroke-width="0.2">Number at risk</text>
<text transform="translate(50.4,666.9) scale(1,1.12)" font-size="8" text-anchor="end" fill="#3b9bd0" stroke="#3b9bd0" stroke-width="0.2" textLength="43.6" lengthAdjust="spacingAndGlyphs">PTCL−NOS</text>
<text transform="translate(59.8,666.9) scale(1,1.12)" font-size="8" text-anchor="middle" fill="#3b9bd0" stroke="#3b9bd0" stroke-width="0.2">7</text>
<text transform="translate(87.17,666.9) scale(1,1.12)" font-size="8" text-anchor="middle" fill="#3b9bd0" stroke="#3b9bd0" stroke-width="0.2">3</text>
<text transform="translate(114.53,666.9) scale(1,1.12)" font-size="8" text-anchor="middle" fill="#3b9bd0" stroke="#3b9bd0" stroke-width="0.2">1</text>
<text transform="translate(141.9,666.9) scale(1,1.12)" font-size="8" text-anchor="middle" fill="#3b9bd0" stroke="#3b9bd0" stroke-width="0.2">1</text>
<text transform="translate(169.26,666.9) scale(1,1.12)" font-size="8" text-anchor="middle" fill="#3b9bd0" stroke="#3b9bd0" stroke-width="0.2">1</text>
<text transform="translate(196.63,666.9) scale(1,1.12)" font-size="8" text-anchor="middle" fill="#3b9bd0" stroke="#3b9bd0" stroke-width="0.2">1</text>
<text transform="translate(224,666.9) scale(1,1.12)" font-size="8" text-anchor="middle" fill="#3b9bd0" stroke="#3b9bd0" stroke-width="0.2">1</text>
<text transform="translate(50.4,679.3) scale(1,1.12)" font-size="8" text-anchor="end" fill="#b5742f" stroke="#b5742f" stroke-width="0.2">nTFH</text>
<text transform="translate(59.8,679.3) scale(1,1.12)" font-size="8" text-anchor="middle" fill="#b5742f" stroke="#b5742f" stroke-width="0.2">14</text>
<text transform="translate(87.17,679.3) scale(1,1.12)" font-size="8" text-anchor="middle" fill="#b5742f" stroke="#b5742f" stroke-width="0.2">2</text>
<text transform="translate(114.53,679.3) scale(1,1.12)" font-size="8" text-anchor="middle" fill="#b5742f" stroke="#b5742f" stroke-width="0.2">0</text>
<text transform="translate(141.9,679.3) scale(1,1.12)" font-size="8" text-anchor="middle" fill="#b5742f" stroke="#b5742f" stroke-width="0.2">0</text>
<text transform="translate(169.26,679.3) scale(1,1.12)" font-size="8" text-anchor="middle" fill="#b5742f" stroke="#b5742f" stroke-width="0.2">0</text>
<text transform="translate(196.63,679.3) scale(1,1.12)" font-size="8" text-anchor="middle" fill="#b5742f" stroke="#b5742f" stroke-width="0.2">0</text>
<text transform="translate(224,679.3) scale(1,1.12)" font-size="8" text-anchor="middle" fill="#b5742f" stroke="#b5742f" stroke-width="0.2">0</text>
<text transform="translate(50.4,691.7) scale(1,1.12)" font-size="8" text-anchor="end" fill="#5b2d6c" stroke="#5b2d6c" stroke-width="0.2">All other</text>
<text transform="translate(59.8,691.7) scale(1,1.12)" font-size="8" text-anchor="middle" fill="#5b2d6c" stroke="#5b2d6c" stroke-width="0.2">17</text>
<text transform="translate(87.17,691.7) scale(1,1.12)" font-size="8" text-anchor="middle" fill="#5b2d6c" stroke="#5b2d6c" stroke-width="0.2">8</text>
<text transform="translate(114.53,691.7) scale(1,1.12)" font-size="8" text-anchor="middle" fill="#5b2d6c" stroke="#5b2d6c" stroke-width="0.2">4</text>
<text transform="translate(141.9,691.7) scale(1,1.12)" font-size="8" text-anchor="middle" fill="#5b2d6c" stroke="#5b2d6c" stroke-width="0.2">2</text>
<text transform="translate(169.26,691.7) scale(1,1.12)" font-size="8" text-anchor="middle" fill="#5b2d6c" stroke="#5b2d6c" stroke-width="0.2">1</text>
<text transform="translate(196.63,691.7) scale(1,1.12)" font-size="8" text-anchor="middle" fill="#5b2d6c" stroke="#5b2d6c" stroke-width="0.2">0</text>
<text transform="translate(224,691.7) scale(1,1.12)" font-size="8" text-anchor="middle" fill="#5b2d6c" stroke="#5b2d6c" stroke-width="0.2">0</text>
<path d="M60.4,485.1 H68.4 V492.4 H68.8 V500 H70 V507 H70.6 V537.6 H226.9" fill="none" stroke="#3b9bd0" stroke-width="1.35" stroke-linejoin="miter"/>
<path d="M79.1,535.4 V539.8 M76.9,537.6 H81.3 M89.3,535.4 V539.8 M87.1,537.6 H91.5 M97.3,535.4 V539.8 M95.1,537.6 H99.5 M226.5,535.4 V539.8 M224.3,537.6 H228.7" fill="none" stroke="#3b9bd0" stroke-width="1"/>
<path d="M60.4,485.1 H62.7 V492.4 H64.8 V505 H65.5 V511.4 H66.5 V528.6 H71.3 V546.4 H72 V556.4 H78.5 V567 H80.2 V587.3 H113.3 V607.5" fill="none" stroke="#b5742f" stroke-width="1.35" stroke-linejoin="miter"/>
<path d="M72,544.2 V548.6 M69.8,546.4 H74.2 M113.3,585.1 V589.5 M111.1,587.3 H115.5" fill="none" stroke="#b5742f" stroke-width="1"/>
<path d="M60.4,485.1 H62.7 V492.4 H67.8 V499.4 H69 V502.2 H69.6 V506.3 H72 V514 H72.6 V521.2 H98.9 V532.1 H109.9 V544.6 H166.7 V576.2 H174.1" fill="none" stroke="#5b2d6c" stroke-width="1.35" stroke-linejoin="miter"/>
<path d="M74.3,519 V523.4 M72.1,521.2 H76.5 M78.9,519 V523.4 M76.7,521.2 H81.1 M86.4,519 V523.4 M84.2,521.2 H88.6 M103.5,529.9 V534.3 M101.3,532.1 H105.7 M112.3,542.4 V546.8 M110.1,544.6 H114.5 M116.1,542.4 V546.8 M113.9,544.6 H118.3 M119.1,542.4 V546.8 M116.9,544.6 H121.3 M174.1,574 V578.4 M171.9,576.2 H176.3" fill="none" stroke="#5b2d6c" stroke-width="1"/>
<text transform="translate(58.5,603.7) scale(1,1.12)" font-size="8.2" fill="#303030" stroke="#303030" stroke-width="0.2"><tspan font-style="italic">P</tspan> = .02</text>
<text x="281.6" y="472.8" font-size="11.8" fill="#111" stroke="#111" stroke-width="0.45" font-weight="bold">F</text>
<path d="M311.8,480.2 V614 H513.1" fill="none" stroke="#444444" stroke-width="1.4"/>
<path d="M308.6,607.9 H311.8" stroke="#444444" stroke-width="1.2"/>
<text transform="translate(305.5,610.5) scale(1,1.12)" font-size="8.3" text-anchor="end" fill="#303030" stroke="#303030" stroke-width="0.2">0</text>
<path d="M308.6,583.48 H311.8" stroke="#444444" stroke-width="1.2"/>
<text transform="translate(305.5,586.08) scale(1,1.12)" font-size="8.3" text-anchor="end" fill="#303030" stroke="#303030" stroke-width="0.2">0.2</text>
<path d="M308.6,559.06 H311.8" stroke="#444444" stroke-width="1.2"/>
<text transform="translate(305.5,561.66) scale(1,1.12)" font-size="8.3" text-anchor="end" fill="#303030" stroke="#303030" stroke-width="0.2">0.4</text>
<path d="M308.6,534.64 H311.8" stroke="#444444" stroke-width="1.2"/>
<text transform="translate(305.5,537.24) scale(1,1.12)" font-size="8.3" text-anchor="end" fill="#303030" stroke="#303030" stroke-width="0.2">0.6</text>
<path d="M308.6,510.22 H311.8" stroke="#444444" stroke-width="1.2"/>
<text transform="translate(305.5,512.82) scale(1,1.12)" font-size="8.3" text-anchor="end" fill="#303030" stroke="#303030" stroke-width="0.2">0.8</text>
<path d="M308.6,485.8 H311.8" stroke="#444444" stroke-width="1.2"/>
<text transform="translate(305.5,488.4) scale(1,1.12)" font-size="8.3" text-anchor="end" fill="#303030" stroke="#303030" stroke-width="0.2">1.0</text>
<path d="M320.9,614 V617" stroke="#444444" stroke-width="1.2"/>
<text transform="translate(320.9,627.6) scale(1,1.12)" font-size="8.3" text-anchor="middle" fill="#303030" stroke="#303030" stroke-width="0.2">0</text>
<path d="M348.37,614 V617" stroke="#444444" stroke-width="1.2"/>
<text transform="translate(348.37,627.6) scale(1,1.12)" font-size="8.3" text-anchor="middle" fill="#303030" stroke="#303030" stroke-width="0.2">6</text>
<path d="M375.84,614 V617" stroke="#444444" stroke-width="1.2"/>
<text transform="translate(375.84,627.6) scale(1,1.12)" font-size="8.3" text-anchor="middle" fill="#303030" stroke="#303030" stroke-width="0.2">12</text>
<path d="M403.3,614 V617" stroke="#444444" stroke-width="1.2"/>
<text transform="translate(403.3,627.6) scale(1,1.12)" font-size="8.3" text-anchor="middle" fill="#303030" stroke="#303030" stroke-width="0.2">18</text>
<path d="M430.77,614 V617" stroke="#444444" stroke-width="1.2"/>
<text transform="translate(430.77,627.6) scale(1,1.12)" font-size="8.3" text-anchor="middle" fill="#303030" stroke="#303030" stroke-width="0.2">24</text>
<path d="M458.24,614 V617" stroke="#444444" stroke-width="1.2"/>
<text transform="translate(458.24,627.6) scale(1,1.12)" font-size="8.3" text-anchor="middle" fill="#303030" stroke="#303030" stroke-width="0.2">30</text>
<path d="M485.71,614 V617" stroke="#444444" stroke-width="1.2"/>
<text transform="translate(485.71,627.6) scale(1,1.12)" font-size="8.3" text-anchor="middle" fill="#303030" stroke="#303030" stroke-width="0.2">36</text>
<text transform="translate(412.45,641.3) scale(0.63,1)" x="0" y="0" font-size="10.2" text-anchor="middle" textLength="173.81" lengthAdjust="spacing" fill="#1a1a1a" stroke="#1a1a1a" stroke-width="0.32">Time since treatment initiation (mo)</text>
<text transform="translate(287.8,546.85) rotate(-90) scale(0.6,1)" x="-38" y="0" font-size="9.8" textLength="18.33" lengthAdjust="spacing" fill="#1a1a1a" stroke="#1a1a1a" stroke-width="0.3">EFS</text>
<text transform="translate(287.8,546.85) rotate(-90) scale(0.6,1)" x="-14.67" y="0" font-size="9.8" textLength="52.67" lengthAdjust="spacing" fill="#1a1a1a" stroke="#1a1a1a" stroke-width="0.3">probability</text>
<text transform="translate(312.1,654.4) scale(1,1.12)" font-size="8" fill="#303030" stroke="#303030" stroke-width="0.2">Number at risk</text>
<text transform="translate(311.4,666.9) scale(1,1.12)" font-size="8" text-anchor="end" fill="#3b9bd0" stroke="#3b9bd0" stroke-width="0.2" textLength="43.6" lengthAdjust="spacingAndGlyphs">PTCL−NOS</text>
<text transform="translate(320.9,666.9) scale(1,1.12)" font-size="8" text-anchor="middle" fill="#3b9bd0" stroke="#3b9bd0" stroke-width="0.2">7</text>
<text transform="translate(348.37,666.9) scale(1,1.12)" font-size="8" text-anchor="middle" fill="#3b9bd0" stroke="#3b9bd0" stroke-width="0.2">1</text>
<text transform="translate(375.84,666.9) scale(1,1.12)" font-size="8" text-anchor="middle" fill="#3b9bd0" stroke="#3b9bd0" stroke-width="0.2">0</text>
<text transform="translate(403.3,666.9) scale(1,1.12)" font-size="8" text-anchor="middle" fill="#3b9bd0" stroke="#3b9bd0" stroke-width="0.2">0</text>
<text transform="translate(430.77,666.9) scale(1,1.12)" font-size="8" text-anchor="middle" fill="#3b9bd0" stroke="#3b9bd0" stroke-width="0.2">0</text>
<text transform="translate(458.24,666.9) scale(1,1.12)" font-size="8" text-anchor="middle" fill="#3b9bd0" stroke="#3b9bd0" stroke-width="0.2">0</text>
<text transform="translate(485.71,666.9) scale(1,1.12)" font-size="8" text-anchor="middle" fill="#3b9bd0" stroke="#3b9bd0" stroke-width="0.2">0</text>
<text transform="translate(311.4,679.3) scale(1,1.12)" font-size="8" text-anchor="end" fill="#b5742f" stroke="#b5742f" stroke-width="0.2">nTFH</text>
<text transform="translate(320.9,679.3) scale(1,1.12)" font-size="8" text-anchor="middle" fill="#b5742f" stroke="#b5742f" stroke-width="0.2">14</text>
<text transform="translate(348.37,679.3) scale(1,1.12)" font-size="8" text-anchor="middle" fill="#b5742f" stroke="#b5742f" stroke-width="0.2">0</text>
<text transform="translate(375.84,679.3) scale(1,1.12)" font-size="8" text-anchor="middle" fill="#b5742f" stroke="#b5742f" stroke-width="0.2">0</text>
<text transform="translate(403.3,679.3) scale(1,1.12)" font-size="8" text-anchor="middle" fill="#b5742f" stroke="#b5742f" stroke-width="0.2">0</text>
<text transform="translate(430.77,679.3) scale(1,1.12)" font-size="8" text-anchor="middle" fill="#b5742f" stroke="#b5742f" stroke-width="0.2">0</text>
<text transform="translate(458.24,679.3) scale(1,1.12)" font-size="8" text-anchor="middle" fill="#b5742f" stroke="#b5742f" stroke-width="0.2">0</text>
<text transform="translate(485.71,679.3) scale(1,1.12)" font-size="8" text-anchor="middle" fill="#b5742f" stroke="#b5742f" stroke-width="0.2">0</text>
<text transform="translate(311.4,691.7) scale(1,1.12)" font-size="8" text-anchor="end" fill="#5b2d6c" stroke="#5b2d6c" stroke-width="0.2">All other</text>
<text transform="translate(320.9,691.7) scale(1,1.12)" font-size="8" text-anchor="middle" fill="#5b2d6c" stroke="#5b2d6c" stroke-width="0.2">17</text>
<text transform="translate(348.37,691.7) scale(1,1.12)" font-size="8" text-anchor="middle" fill="#5b2d6c" stroke="#5b2d6c" stroke-width="0.2">5</text>
<text transform="translate(375.84,691.7) scale(1,1.12)" font-size="8" text-anchor="middle" fill="#5b2d6c" stroke="#5b2d6c" stroke-width="0.2">2</text>
<text transform="translate(403.3,691.7) scale(1,1.12)" font-size="8" text-anchor="middle" fill="#5b2d6c" stroke="#5b2d6c" stroke-width="0.2">1</text>
<text transform="translate(430.77,691.7) scale(1,1.12)" font-size="8" text-anchor="middle" fill="#5b2d6c" stroke="#5b2d6c" stroke-width="0.2">1</text>
<text transform="translate(458.24,691.7) scale(1,1.12)" font-size="8" text-anchor="middle" fill="#5b2d6c" stroke="#5b2d6c" stroke-width="0.2">0</text>
<text transform="translate(485.71,691.7) scale(1,1.12)" font-size="8" text-anchor="middle" fill="#5b2d6c" stroke="#5b2d6c" stroke-width="0.2">0</text>
<path d="M321.5,486 H329 V493 H329.8 V500.2 H331.5 V511 H332.2 V522.8 H333 V538.2 H350.4 V607.9" fill="none" stroke="#3b9bd0" stroke-width="1.35" stroke-linejoin="miter"/>
<path d="M340.8,536 V540.4 M338.6,538.2 H343 M344.6,536 V540.4 M342.4,538.2 H346.8" fill="none" stroke="#3b9bd0" stroke-width="1"/>
<path d="M321.5,486 H324.3 V494.1 H326 V503 H327 V512.3 H328 V521 H328.8 V529.6 H332.4 V537.7 H334 V548 H334.5 V560.2 H339.6 V575.7 H343.4 V591.8 H346.4" fill="none" stroke="#b5742f" stroke-width="1.35" stroke-linejoin="miter"/>
<path d="M332.9,535.5 V539.9 M330.7,537.7 H335.1 M334.5,545.8 V550.2 M332.3,548 H336.7 M339.6,558 V562.4 M337.4,560.2 H341.8 M346.4,589.6 V594 M344.2,591.8 H348.6" fill="none" stroke="#b5742f" stroke-width="1"/>
<path d="M321.5,486 H329 V493.8 H330.5 V500.2 H333.6 V508 H334.5 V515.8 H335.3 V523.4 H360.3 V544.5 H371.3 V565.8 H435.6" fill="none" stroke="#5b2d6c" stroke-width="1.35" stroke-linejoin="miter"/>
<path d="M335.9,521.2 V525.6 M333.7,523.4 H338.1 M339.9,521.2 V525.6 M337.7,523.4 H342.1 M342.2,521.2 V525.6 M340,523.4 H344.4 M344.8,521.2 V525.6 M342.6,523.4 H347 M360.3,521.2 V525.6 M358.1,523.4 H362.5 M380.4,563.6 V568 M378.2,565.8 H382.6 M435.6,563.6 V568 M433.4,565.8 H437.8" fill="none" stroke="#5b2d6c" stroke-width="1"/>
<text transform="translate(358,600.3) scale(1,1.12)" font-size="8.2" fill="#303030" stroke="#303030" stroke-width="0.2"><tspan font-style="italic">P</tspan> = .03</text>
</svg></body></html>
